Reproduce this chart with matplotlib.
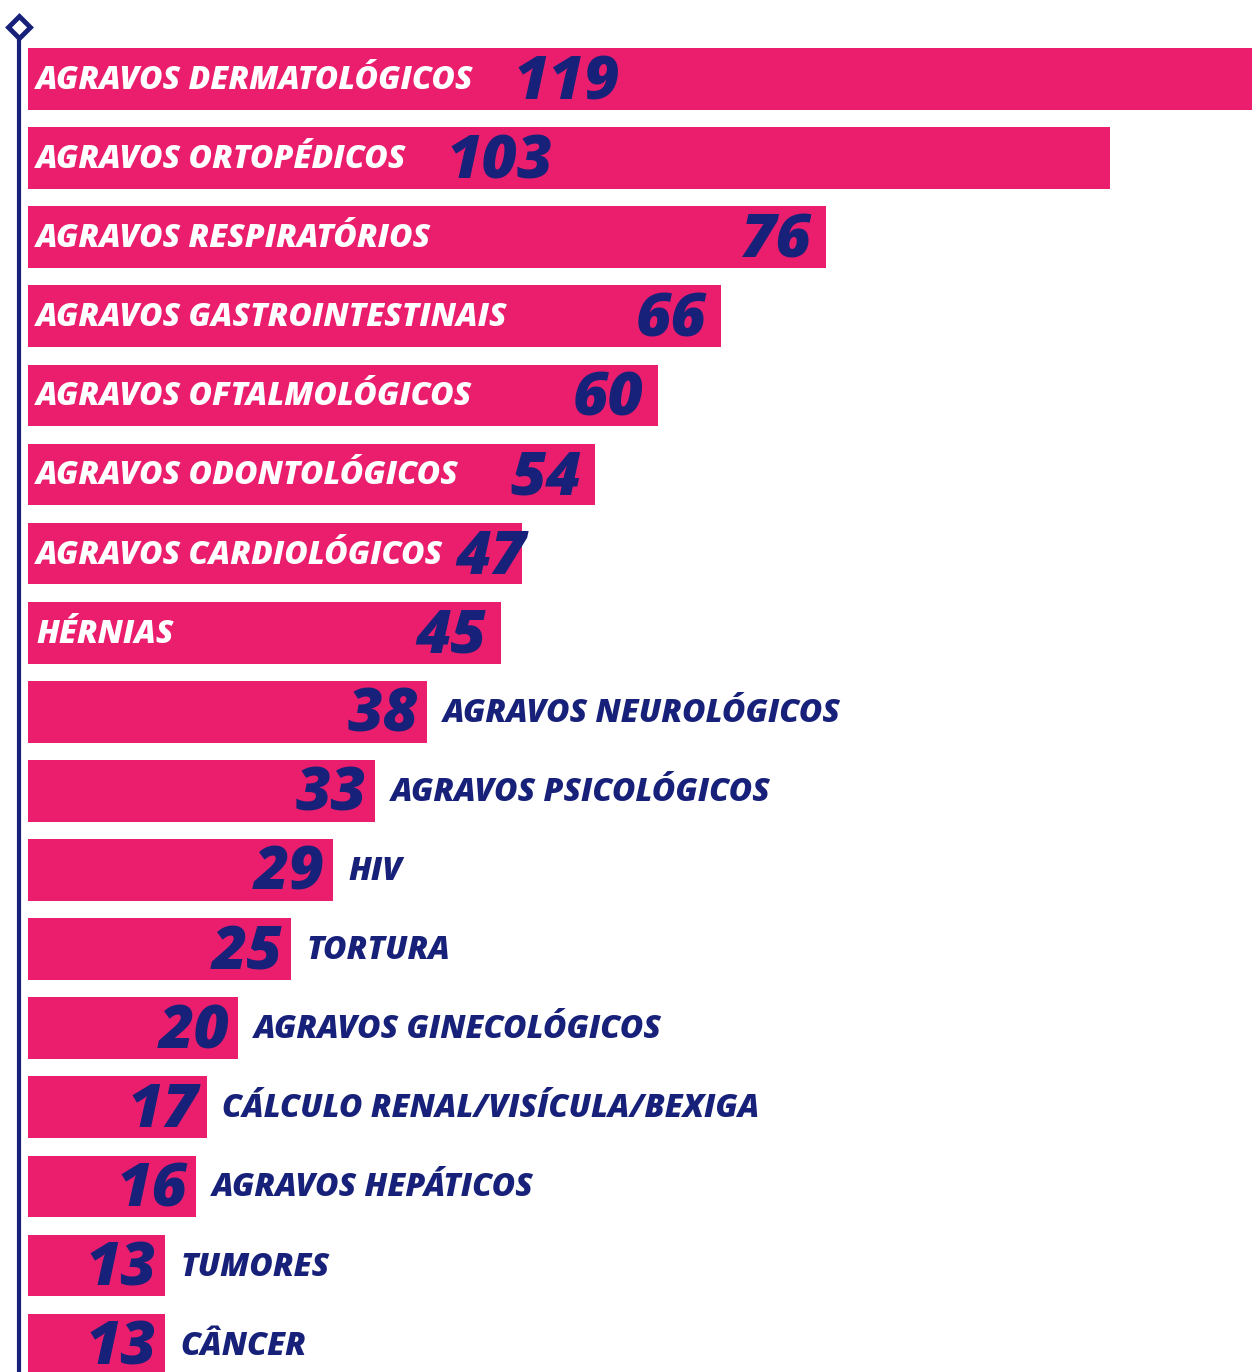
import matplotlib
matplotlib.use('Agg')
import matplotlib.pyplot as plt

# data
categories = ['AGRAVOS DERMATOLÓGICOS', 'AGRAVOS ORTOPÉDICOS', 'AGRAVOS RESPIRATÓRIOS',
              'AGRAVOS GASTROINTESTINAIS', 'AGRAVOS OFTALMOLÓGICOS', 'AGRAVOS ODONTOLÓGICOS',
              'AGRAVOS CARDIOLÓGICOS', 'HÉRNIAS', 'AGRAVOS NEUROLÓGICOS', 'AGRAVOS PSICOLÓGICOS',
              'HIV', 'TORTURA', 'AGRAVOS GINECOLÓGICOS', 'CÁLCULO RENAL/VISÍCULA/BEXIGA',
              'AGRAVOS HEPÁTICOS', 'TUMORES', 'CÂNCER']
values = [119, 103, 76, 66, 60, 54, 47, 45, 38, 33, 29, 25, 20, 17, 16, 13, 13]

pink = '#EB1E6E'
navy = '#18217A'
font = 'Open Sans'
PT = 0.72  # points per pixel at dpi 100

W, H = 1252, 1372
fig = plt.figure(figsize=(W / 100, H / 100), dpi=100)
ax = fig.add_axes([0, 0, 1, 1])
ax.axis('off')

px_unit = 10.5          # pixels per count
x0 = 28                 # bar start in pixels
row = 79.1              # row pitch in pixels
y0 = 79                 # first bar centre in pixels
ax.set_xlim(-x0 / px_unit, (W - x0) / px_unit)
ax.set_ylim((H - y0) / row, -y0 / row)

ypos = list(range(len(values)))
ax.barh(ypos, values, height=0.78, color=pink, left=0)

# axis line with diamond on top
ax.plot([-9 / px_unit, -9 / px_unit], [(27 - y0) / row, (H - y0) / row + 1],
        color=navy, lw=3, clip_on=False, solid_capstyle='butt')
ax.plot([-9 / px_unit], [(27 - y0) / row], marker='D', ms=11, mfc='white',
        mec=navy, mew=3.5, zorder=5)

fig.canvas.draw()
renderer = fig.canvas.get_renderer()
num_kw = dict(color=navy, fontsize=44, fontweight='heavy', style='italic',
              family=font, va='center', textcoords='offset points', annotation_clip=False)
lab_kw = dict(fontsize=23, fontweight='heavy', style='italic', family=font,
              va='center', ha='left', textcoords='offset points', annotation_clip=False)

for i, (cat, v) in enumerate(zip(categories, values)):
    end_px = ax.transData.transform((v, i))[0]
    start_px = ax.transData.transform((0, i))[0]
    if v >= 45:
        t = ax.annotate(cat, (0, i), xytext=(8 * PT, -2 * PT), color='white', **lab_kw)
        n = ax.annotate(str(v), (0, i), xytext=(0, -4 * PT), ha='left', **num_kw)
        fig.canvas.draw()
        lab_end = t.get_window_extent(renderer).x1
        nw = n.get_window_extent(renderer).width
        if end_px - lab_end > 450:
            nx = lab_end + 40
        else:
            nx = max(lab_end + 12, end_px - 14 - nw)
        n.xyann = ((nx - start_px) * PT, -4 * PT)
    else:
        ax.annotate(str(v), (v, i), xytext=(-8 * PT, -4 * PT), ha='right', **num_kw)
        ax.annotate(cat, (v, i), xytext=(16 * PT, -2 * PT), color=navy, **lab_kw)

fig.savefig('out.png', dpi=100)
